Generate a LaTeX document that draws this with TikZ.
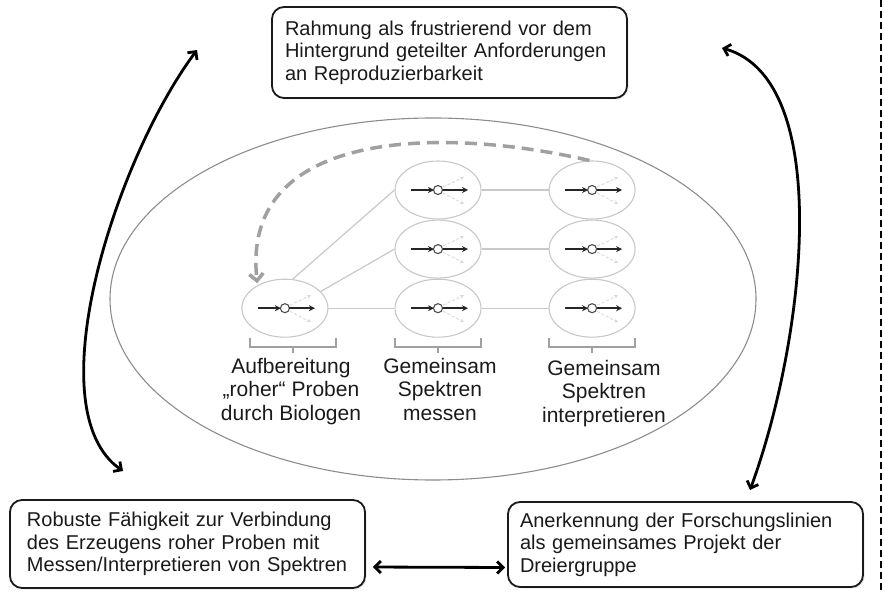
\documentclass[tikz,border=0pt]{standalone}
\usepackage{fontspec}
\setmainfont{Liberation Sans}
\usetikzlibrary{arrows.meta, positioning, shapes.geometric, shadows}
\definecolor{boxline}{HTML}{1A1A1A}
\definecolor{lightline}{HTML}{C8C8C8}
\definecolor{midgray}{HTML}{A0A0A0}
\definecolor{rimgray}{HTML}{8C8C8C}
\tikzset{%
	claim/.style={draw=boxline, line width=1.8pt, rounded corners=12pt, fill=white,
		align=left, inner ysep=0pt, text=boxline, font=\fontsize{20}{22.5}\selectfont,
		drop shadow={opacity=0.18, shadow xshift=1.5pt, shadow yshift=-1.5pt}},
	field/.style={draw=rimgray, line width=1.1pt, ellipse, inner sep=0pt,
		minimum width=646pt, minimum height=362pt},
	phase/.style={draw=lightline, line width=1.1pt, ellipse, inner sep=0pt,
		minimum width=86pt, minimum height=58pt, fill=white},
	link/.style={draw=lightline, line width=1.2pt},
	brace/.style={draw=midgray, line width=1.6pt},
	lbl/.style={align=center, inner sep=0pt, text=boxline, font=\fontsize{21}{23.5}\selectfont},
	loopback/.style={draw=midgray, line width=3.5pt, dash pattern=on 12pt off 7pt,
		-{Straight Barb[length=7pt, width=14pt, line width=3.5pt]}},
	relation/.style={draw=black, line width=2.8pt, solid, line cap=round,
		{Straight Barb[length=6pt, width=12pt]}-{Straight Barb[length=6pt, width=12pt]}},
	pageedge/.style={draw=black, line width=2pt, dash pattern=on 7pt off 4pt},
	flow/.pic={
		\draw[line width=1.6pt, draw=black!85, -{Stealth[length=6pt, width=6pt]}] (-27,0) -- (-4,0);
		\draw[line width=1.1pt, draw=black!70] (0,0) circle (4.5);
		\draw[line width=1.6pt, draw=black!85, -{Stealth[length=6pt, width=6pt]}] (4.5,0) -- (30,0);
		\draw[line width=0.9pt, draw=black!15, densely dashed, -{Stealth[length=4pt, width=4pt]}] (5,-3) -- (26,-13);
		\draw[line width=0.9pt, draw=black!15, densely dashed, -{Stealth[length=4pt, width=4pt]}] (5,3) -- (26,14);
	}
}

\begin{document}
\begin{tikzpicture}[x=1pt, y=-1pt]
	\useasboundingbox (0,0) rectangle (884,593);

	% outer field and phases
	\node[field] (big) at (433,299) {};
	\node[phase] (m1) at (438,190) {};
	\node[phase, below=0pt of m1] (m2) {};
	\node[phase, below=0pt of m2] (m3) {};
	\node[phase, right=67pt of m1] (n1) {};
	\node[phase, right=67pt of m2] (n2) {};
	\node[phase, right=67pt of m3] (n3) {};
	\node[phase, left=66pt of m3] (e1) {};
	\foreach \s in {e1,m1,m2,m3,n1,n2,n3}
		\pic at (\s) {flow};

	\draw[link] (e1.75) -- (m1.west);
	\draw[link] (e1.25) -- (m2.west);
	\draw[link] (e1) -- (m3);
	\draw[link] (m1) -- (n1);
	\draw[link] (m2) -- (n2);
	\draw[link] (m3) -- (n3);

	\draw[loopback, shorten >=2pt] (n1.95) .. controls (450,128) and (240,125) .. (e1.140);

	% brackets and labels
	\foreach \x in {293,438,592}
		\draw[brace] (\x-43,338) -- ++(0,9) -- ++(86,0) -- ++(0,-9) (\x,347) -- ++(0,6);
	\node[lbl, anchor=north] (l1) at (291,358) {Aufbereitung\\„roher“ Proben\\durch Biologen};
	\node[lbl, anchor=north] (l2) at (440,358) {Gemeinsam\\Spektren\\messen};
	\node[lbl, anchor=north] (l3) at (604,360) {Gemeinsam\\Spektren\\interpretieren};

	% statements
	\node[claim, text width=329pt, inner xsep=13pt, minimum height=91pt] (top) at (449.5,52.5)
		{Rahmung als frustrierend vor dem\\Hintergrund geteilter Anforderungen\\an Reproduzierbarkeit};
	\node[claim, text width=321pt, inner xsep=17pt, minimum height=88pt] (boxl) at (187.5,544)
		{Robuste Fähigkeit zur Verbindung\\des Erzeugens roher Proben mit\\Messen/Interpretieren von Spektren};
	\node[claim, text width=331pt, inner xsep=12pt, minimum height=85pt] (boxr) at (685.5,544.5)
		{Anerkennung der Forschungslinien\\als gemeinsames Projekt der\\Dreiergruppe};

	\coordinate (la) at (197,50);
	\coordinate (lb) at (123,471);
	\coordinate (ra) at (722,48);
	\coordinate (rb) at (750,490);
	\draw[relation] (la) .. controls (115,160) and (35,410) .. (lb);
	\draw[relation] (ra) .. controls (835,80) and (805,340) .. (rb);
	\draw[relation, shorten <=7pt, shorten >=2pt] ([yshift=-23pt]boxl.east) -- ([yshift=-23pt]boxr.west);

	\draw[pageedge] (881,0) -- (881,593);
\end{tikzpicture}
\end{document}
